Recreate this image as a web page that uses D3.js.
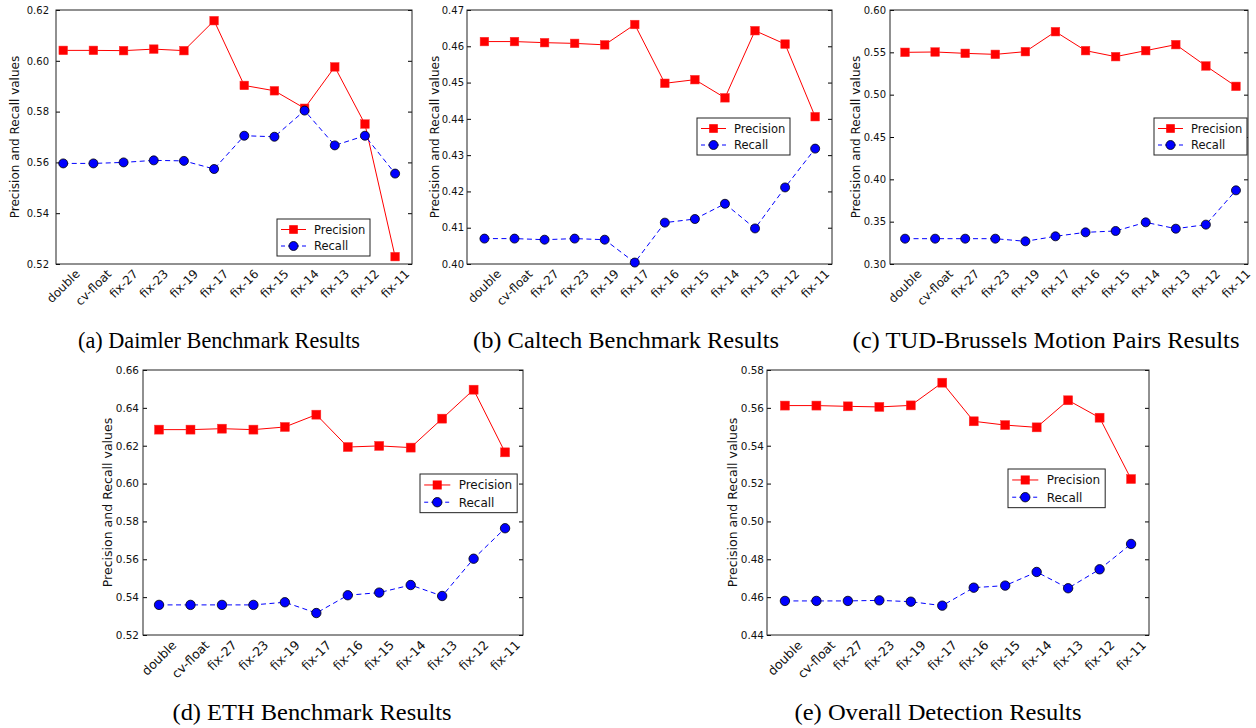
<!DOCTYPE html>
<html>
<head>
<meta charset="utf-8">
<script src="https://cdnjs.cloudflare.com/ajax/libs/d3/7.8.5/d3.min.js"></script>
<style>
  body { margin: 0; background: #fff; }
  svg { display: block; }
  text { font-family: "DejaVu Sans", sans-serif; }
  .caption { font-family: "Liberation Serif", "Times New Roman", serif; }
</style>
</head>
<body>
<div id="chart"></div>
<script>
var width = 1256,
    height = 728;

var categories = ["double", "cv-float", "fix-27", "fix-23", "fix-19", "fix-17",
                  "fix-16", "fix-15", "fix-14", "fix-13", "fix-12", "fix-11"];
var seriesNames = ["Precision", "Recall"];

// (a) Daimler
var daimlerPrecision = [0.6041, 0.6041, 0.6040, 0.6046, 0.6040, 0.6158, 0.5903, 0.5882, 0.5813, 0.5976, 0.5751, 0.5229];
var daimlerRecall    = [0.5596, 0.5596, 0.5600, 0.5608, 0.5606, 0.5574, 0.5705, 0.5701, 0.5804, 0.5667, 0.5705, 0.5556];
var daimlerTicks     = [0.52, 0.54, 0.56, 0.58, 0.60, 0.62];

// (b) Caltech
var caltechPrecision = [0.4613, 0.4613, 0.4610, 0.4608, 0.4604, 0.4660, 0.4498, 0.4508, 0.4458, 0.4643, 0.4606, 0.4406];
var caltechRecall    = [0.4070, 0.4070, 0.4067, 0.4070, 0.4067, 0.4004, 0.4114, 0.4124, 0.4166, 0.4098, 0.4211, 0.4318];
var caltechTicks     = [0.40, 0.41, 0.42, 0.43, 0.44, 0.45, 0.46, 0.47];

// (c) TUD-Brussels
var tudPrecision = [0.5500, 0.5504, 0.5488, 0.5476, 0.5508, 0.5744, 0.5520, 0.5449, 0.5520, 0.5591, 0.5339, 0.5098];
var tudRecall    = [0.3299, 0.3299, 0.3299, 0.3299, 0.3268, 0.3327, 0.3374, 0.3390, 0.3492, 0.3417, 0.3465, 0.3870];
var tudTicks     = [0.30, 0.35, 0.40, 0.45, 0.50, 0.55, 0.60];

// (d) ETH
var ethPrecision = [0.6285, 0.6285, 0.6290, 0.6285, 0.6299, 0.6364, 0.6193, 0.6199, 0.6190, 0.6343, 0.6496, 0.6165];
var ethRecall    = [0.5359, 0.5359, 0.5359, 0.5359, 0.5373, 0.5316, 0.5410, 0.5424, 0.5464, 0.5406, 0.5603, 0.5764];
var ethTicks     = [0.52, 0.54, 0.56, 0.58, 0.60, 0.62, 0.64, 0.66];

// (e) Overall
var overallPrecision = [0.5612, 0.5612, 0.5608, 0.5605, 0.5613, 0.5733, 0.5529, 0.5509, 0.5497, 0.5640, 0.5548, 0.5224];
var overallRecall    = [0.4580, 0.4580, 0.4580, 0.4583, 0.4576, 0.4555, 0.4650, 0.4661, 0.4733, 0.4647, 0.4747, 0.4881];
var overallTicks     = [0.44, 0.46, 0.48, 0.50, 0.52, 0.54, 0.56, 0.58];

var captions = ["(a) Daimler Benchmark Results", "(b) Caltech Benchmark Results",
                "(c) TUD-Brussels Motion Pairs Results", "(d) ETH Benchmark Results",
                "(e) Overall Detection Results"];

// layout of each subplot (pixels)
var panels = [
  {p: daimlerPrecision, r: daimlerRecall, ticks: daimlerTicks,
   l: 56, rt: 412, t: 10, b: 264, xlo: 0.24, xhi: 0.56, labX: 15, gap: 7,
   leg: [277, 219], s: 1, cap: [219, 348, 282]},
  {p: caltechPrecision, r: caltechRecall, ticks: caltechTicks,
   l: 467, rt: 832, t: 10, b: 264, xlo: 0.58, xhi: 0.56, labX: 435, gap: 3,
   leg: [697, 118], s: 1, cap: [626, 348, 306]},
  {p: tudPrecision, r: tudRecall, ticks: tudTicks,
   l: 890, rt: 1248, t: 10, b: 264, xlo: 0.5, xhi: 0.4, labX: 856, gap: 4,
   leg: [1154, 118], s: 1, cap: [1046, 348, 387]},
  {p: ethPrecision, r: ethRecall, ticks: ethTicks,
   l: 143, rt: 523, t: 370, b: 635, xlo: 0.51, xhi: 0.57, labX: 108, gap: 4,
   leg: [420, 474], s: 1.045, cap: [312, 720, 279]},
  {p: overallPrecision, r: overallRecall, ticks: overallTicks,
   l: 767, rt: 1149, t: 370, b: 635, xlo: 0.57, xhi: 0.57, labX: 733, gap: 3,
   leg: [1008, 469], s: 1.045, cap: [938, 720, 287]}
];

var svg = d3.select("#chart").append("svg")
    .attr("width", width)
    .attr("height", height);

svg.append("rect").attr("width", width).attr("height", height).attr("fill", "#fff");

var fmt = d3.format(".2f");

panels.forEach(function (cfg, k) {
    var n = categories.length;
    var x = d3.scaleLinear()
        .domain([-cfg.xlo, n - 1 + cfg.xhi])
        .range([cfg.l, cfg.rt]);
    var y = d3.scaleLinear()
        .domain(d3.extent(cfg.ticks))
        .range([cfg.b, cfg.t]);

    var g = svg.append("g");

    // y ticks, left and right, pointing in
    var yAxisL = d3.axisLeft(y).tickValues(cfg.ticks).tickFormat(fmt).tickSizeInner(-4).tickSizeOuter(0).tickPadding(cfg.gap);
    var ya = g.append("g").attr("transform", "translate(" + cfg.l + ",0)").call(yAxisL);
    ya.select(".domain").remove();
    ya.selectAll("line").attr("stroke", "#000");
    ya.selectAll("text").attr("font-size", 10 * cfg.s).attr("font-family", "DejaVu Sans").attr("fill", "#111");

    var yAxisR = d3.axisRight(y).tickValues(cfg.ticks).tickFormat("").tickSizeInner(-4).tickSizeOuter(0);
    var yr = g.append("g").attr("transform", "translate(" + cfg.rt + ",0)").call(yAxisR);
    yr.select(".domain").remove();
    yr.selectAll("line").attr("stroke", "#000");

    // frame
    g.append("rect")
        .attr("x", cfg.l).attr("y", cfg.t)
        .attr("width", cfg.rt - cfg.l).attr("height", cfg.b - cfg.t)
        .attr("fill", "none").attr("stroke", "#222").attr("stroke-width", 1);

    // x labels, rotated 45deg, bbox centred under each category
    var fs = 12 * cfg.s;
    categories.forEach(function (c, i) {
        var t = g.append("text")
            .attr("font-size", fs)
            .attr("text-anchor", "middle")
            .attr("dy", "0.35em")
            .attr("fill", "#111")
            .text(c);
        var L = t.node().getComputedTextLength();
        var bh = (L + fs * 1.1) * Math.SQRT1_2;
        var cx = x(i), cy = cfg.b + 3 + bh / 2;
        t.attr("x", cx).attr("y", cy)
            .attr("transform", "rotate(-45," + cx + "," + cy + ")");
    });

    // y label
    var my = (cfg.t + cfg.b) / 2;
    g.append("text")
        .attr("font-size", 12 * cfg.s)
        .attr("text-anchor", "middle")
        .attr("transform", "translate(" + cfg.labX + "," + my + ") rotate(-90)")
        .attr("dy", "0.35em")
        .attr("fill", "#111")
        .text("Precision and Recall values");

    // lines
    var line = d3.line()
        .x(function (d, i) { return x(i); })
        .y(function (d) { return y(d); });

    g.append("path").datum(cfg.p)
        .attr("d", line)
        .attr("fill", "none").attr("stroke", "#ff0000").attr("stroke-width", 1);
    g.append("path").datum(cfg.r)
        .attr("d", line)
        .attr("fill", "none").attr("stroke", "#0000ff").attr("stroke-width", 1)
        .attr("stroke-dasharray", "5,3.5");

    var sq = 8.6 * cfg.s, rad = 4.5 * cfg.s;
    g.selectAll(".sq").data(cfg.p).enter().append("rect")
        .attr("x", function (d, i) { return x(i) - sq / 2; })
        .attr("y", function (d) { return y(d) - sq / 2; })
        .attr("width", sq).attr("height", sq)
        .attr("fill", "#ff0000").attr("stroke", "#ff3030").attr("stroke-width", 0.5);
    g.selectAll(".ci").data(cfg.r).enter().append("circle")
        .attr("cx", function (d, i) { return x(i); })
        .attr("cy", function (d) { return y(d); })
        .attr("r", rad)
        .attr("fill", "#0000ff").attr("stroke", "#000").attr("stroke-width", 0.8);

    // legend
    var s = cfg.s;
    var lg = g.append("g").attr("transform", "translate(" + cfg.leg[0] + "," + cfg.leg[1] + ")");
    lg.append("rect")
        .attr("width", 93 * s).attr("height", 37 * s)
        .attr("fill", "#fff").attr("stroke", "#222").attr("stroke-width", 1);
    seriesNames.forEach(function (name, j) {
        var ry = (10.5 + j * 16.5) * s;
        lg.append("line")
            .attr("x1", 4 * s).attr("x2", 29 * s).attr("y1", ry).attr("y2", ry)
            .attr("stroke", j ? "#0000ff" : "#ff0000").attr("stroke-width", 1)
            .attr("stroke-dasharray", j ? "4,3" : null);
        if (j === 0) {
            lg.append("rect")
                .attr("x", 16.5 * s - sq / 2).attr("y", ry - sq / 2)
                .attr("width", sq).attr("height", sq)
                .attr("fill", "#ff0000");
        } else {
            lg.append("circle")
                .attr("cx", 16.5 * s).attr("cy", ry).attr("r", rad)
                .attr("fill", "#0000ff").attr("stroke", "#000").attr("stroke-width", 0.8);
        }
        lg.append("text")
            .attr("x", 37 * s).attr("y", ry).attr("dy", "0.36em")
            .attr("font-size", 11.5 * s).attr("fill", "#111")
            .text(name);
    });

    // caption
    svg.append("text")
        .attr("class", "caption")
        .attr("x", cfg.cap[0]).attr("y", cfg.cap[1])
        .attr("text-anchor", "middle")
        .attr("font-size", 24)
        .attr("textLength", cfg.cap[2])
        .attr("lengthAdjust", "spacingAndGlyphs")
        .text(captions[k]);
});
</script>
</body>
</html>
